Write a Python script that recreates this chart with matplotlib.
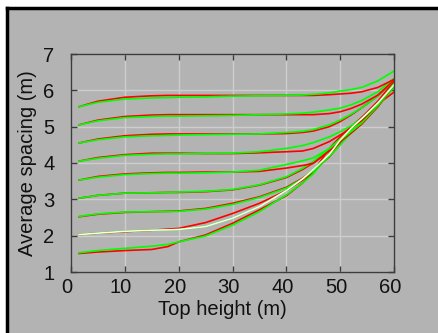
import numpy as np
import matplotlib
matplotlib.use("Agg")
import matplotlib.pyplot as plt
import matplotlib.transforms as mtransforms
from matplotlib.patches import Rectangle
from matplotlib.lines import Line2D

plt.rcParams['font.family'] = ['Liberation Sans', 'DejaVu Sans']

# top height grid shared by all curves
height = [1.5, 5, 10, 15, 18, 20, 25, 30, 35, 40, 43, 45, 48, 50, 52, 54, 57, 60]

# red curves, bottom to top
red_curves = [
    [1.51, 1.55, 1.59, 1.62, 1.70, 1.83, 2.02, 2.34, 2.71, 3.10, 3.45, 3.76, 4.40, 4.72, 5.00, 5.25, 5.62, 5.95],
    [2.03, 2.07, 2.11, 2.15, 2.18, 2.20, 2.36, 2.61, 2.89, 3.24, 3.53, 3.78, 4.20, 4.59, 4.95, 5.25, 5.70, 6.24],
    [2.52, 2.59, 2.64, 2.66, 2.67, 2.68, 2.75, 2.89, 3.07, 3.33, 3.58, 3.79, 4.17, 4.52, 4.85, 5.10, 5.55, 6.15],
    [3.03, 3.11, 3.17, 3.18, 3.19, 3.19, 3.21, 3.26, 3.39, 3.60, 3.82, 4.00, 4.36, 4.63, 4.88, 5.14, 5.60, 6.15],
    [3.53, 3.63, 3.70, 3.73, 3.74, 3.74, 3.75, 3.75, 3.77, 3.86, 3.93, 3.99, 4.33, 4.59, 4.82, 5.07, 5.55, 6.15],
    [4.05, 4.15, 4.23, 4.27, 4.27, 4.27, 4.26, 4.26, 4.28, 4.31, 4.33, 4.40, 4.59, 4.77, 4.96, 5.17, 5.60, 6.19],
    [4.55, 4.66, 4.75, 4.79, 4.80, 4.80, 4.80, 4.80, 4.80, 4.81, 4.84, 4.88, 5.00, 5.14, 5.32, 5.52, 5.85, 6.24],
    [5.05, 5.18, 5.28, 5.32, 5.33, 5.33, 5.33, 5.33, 5.33, 5.33, 5.33, 5.33, 5.36, 5.41, 5.50, 5.62, 5.87, 6.28],
    [5.55, 5.70, 5.81, 5.85, 5.86, 5.86, 5.86, 5.86, 5.86, 5.86, 5.86, 5.86, 5.88, 5.90, 5.92, 5.96, 6.08, 6.30],
]

# green curves, bottom to top
green_curves = [
    [1.53, 1.59, 1.65, 1.71, 1.76, 1.83, 1.99, 2.29, 2.66, 3.12, 3.45, 3.70, 4.25, 4.59, 4.90, 5.18, 5.58, 6.08],
    [2.03, 2.07, 2.12, 2.15, 2.16, 2.17, 2.25, 2.48, 2.80, 3.24, 3.56, 3.82, 4.24, 4.63, 4.95, 5.22, 5.65, 6.15],
    [2.53, 2.60, 2.65, 2.66, 2.66, 2.67, 2.73, 2.86, 3.05, 3.31, 3.56, 3.78, 4.18, 4.50, 4.82, 5.08, 5.55, 6.12],
    [3.03, 3.11, 3.17, 3.18, 3.19, 3.20, 3.22, 3.27, 3.40, 3.62, 3.85, 4.04, 4.40, 4.66, 4.90, 5.15, 5.58, 6.10],
    [3.53, 3.61, 3.68, 3.71, 3.72, 3.72, 3.73, 3.75, 3.80, 3.96, 4.06, 4.14, 4.40, 4.63, 4.86, 5.10, 5.57, 6.15],
    [4.05, 4.13, 4.21, 4.24, 4.25, 4.25, 4.26, 4.27, 4.31, 4.40, 4.48, 4.56, 4.72, 4.86, 5.02, 5.22, 5.60, 6.19],
    [4.55, 4.64, 4.72, 4.75, 4.76, 4.77, 4.78, 4.79, 4.80, 4.84, 4.87, 4.92, 5.05, 5.18, 5.34, 5.52, 5.85, 6.28],
    [5.05, 5.16, 5.25, 5.28, 5.29, 5.29, 5.30, 5.31, 5.33, 5.35, 5.37, 5.40, 5.46, 5.51, 5.60, 5.72, 5.96, 6.33],
    [5.55, 5.67, 5.76, 5.79, 5.80, 5.81, 5.82, 5.84, 5.85, 5.86, 5.87, 5.89, 5.93, 5.98, 6.02, 6.08, 6.26, 6.53],
]

# the pale curve sitting on the second green one
pale_curve = green_curves[1]

xticks = [0, 10, 20, 30, 40, 50, 60]
yticks = [1, 2, 3, 4, 5, 6, 7]

bg = '#b3b3b3'
fs = 14.5
fig = plt.figure(figsize=(4.38, 3.33), dpi=100, facecolor=bg)

# white margin on top and left, then a black edge
x0, y0 = 6.5 / 438, (333 - 7.5) / 333
fig.patches.append(Rectangle((0, y0), 1, 1 - y0, transform=fig.transFigure,
                             facecolor='white', edgecolor='none', zorder=-10))
fig.patches.append(Rectangle((0, 0), x0, 1, transform=fig.transFigure,
                             facecolor='white', edgecolor='none', zorder=-10))
fig.add_artist(Line2D([x0, 1.01], [y0, y0], color='black', lw=2.5,
                      transform=fig.transFigure))
fig.add_artist(Line2D([x0, x0], [-0.01, y0], color='black', lw=2.5,
                      transform=fig.transFigure, solid_capstyle='projecting'))

ax = fig.add_axes([71 / 438, 61 / 333, 323 / 438, 218 / 333])
ax.set_zorder(5)
ax.set_facecolor(bg)

for r, g in zip(red_curves, green_curves):
    ax.plot(height, r, color='#ff0000', lw=1.2)
    ax.plot(height, g, color='#00ff00', lw=1.2)
ax.plot(height, pale_curve, color='#fffbe8', lw=1.1)

ax.set_xlim(0, 60)
ax.set_ylim(1, 7)
ax.set_xticks(xticks)
ax.set_yticks(yticks)
ax.grid(True, color='#cdcdcd', lw=1)
ax.set_axisbelow(True)

for s in ax.spines.values():
    s.set_color('#3c3c3c')
    s.set_linewidth(1.0)

ax.tick_params(direction='in', length=4, width=1, color='#3c3c3c',
               top=True, right=True, labelsize=fs, labelcolor='#111111')
ax.tick_params(axis='y', pad=12)
ax.tick_params(axis='x', pad=4)

# x tick labels sit slightly left of their ticks in the original
shift = mtransforms.ScaledTranslation(-4 / 100, 0, fig.dpi_scale_trans)
for lab in ax.get_xticklabels():
    lab.set_transform(lab.get_transform() + shift)

ax.set_xlabel('Top height (m)', fontsize=fs, color='#111111')
ax.set_ylabel('Average spacing (m)', fontsize=fs, color='#111111')
ax.xaxis.set_label_coords(0.47, -0.13)
ax.yaxis.set_label_coords(-0.105, 0.5)

fig.savefig('out.png', dpi=100, facecolor=bg)
